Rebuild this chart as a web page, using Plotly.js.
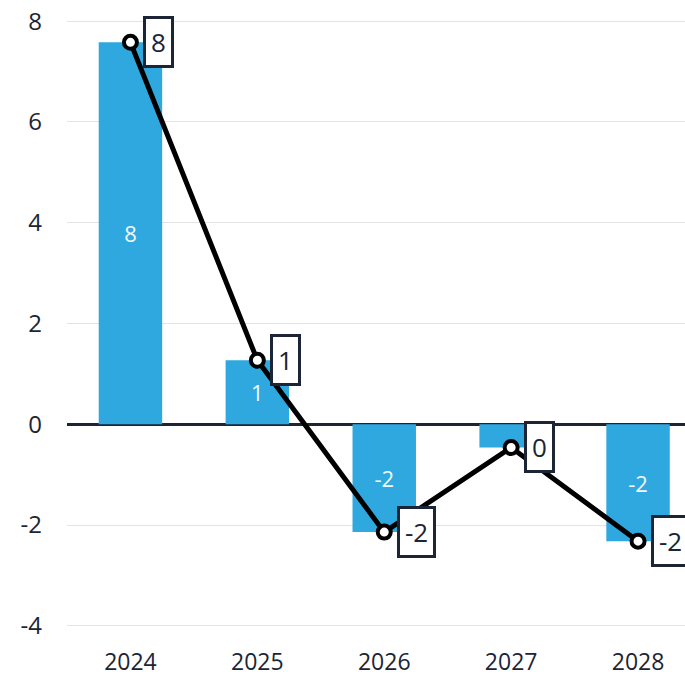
<!DOCTYPE html>
<html>
<head>
<meta charset="utf-8">
<script src="https://cdn.plot.ly/plotly-3.0.1.min.js"></script>
<style>html,body{margin:0;padding:0;background:#fff;overflow:hidden;}#chart{width:685px;height:676px;}</style>
</head>
<body>
<div id="chart"></div>
<script>
const years = ['2024', '2025', '2026', '2027', '2028'];
const barValues = [7.58, 1.27, -2.14, -0.46, -2.32];
const lineValues = [7.58, 1.27, -2.14, -0.46, -2.32];
const yTicks = [-4, -2, 0, 2, 4, 6, 8];

const navy = '#1b2535';
const fontFam = 'Open Sans, Noto Sans, sans-serif';

const bars = {
  type: 'bar',
  x: years,
  y: barValues,
  marker: {color: '#2ea8df'},
  text: barValues.map(v => String(Math.round(v))),
  textposition: 'inside',
  insidetextanchor: 'middle',
  textangle: 0,
  insidetextfont: {color: '#f2f9fd', size: 22, family: fontFam},
  hoverinfo: 'skip',
  showlegend: false
};

const line = {
  type: 'scatter',
  mode: 'lines+markers',
  x: years,
  y: lineValues,
  line: {color: '#000000', width: 5},
  marker: {size: 13, color: '#ffffff', line: {color: '#000000', width: 4}},
  cliponaxis: false,
  showlegend: false
};

const annotations = lineValues.map((v, i) => ({
  x: i,
  y: v,
  xref: 'x',
  yref: 'y',
  text: String(Math.round(v)),
  showarrow: false,
  xanchor: 'left',
  yanchor: 'middle',
  xshift: 13,
  bgcolor: '#ffffff',
  bordercolor: navy,
  borderwidth: 3,
  borderpad: 5,
  font: {size: 26, color: navy, family: fontFam}
}));

const layout = {
  width: 685,
  height: 676,
  margin: {l: 67, r: 0, t: 1, b: 30},
  paper_bgcolor: '#ffffff',
  plot_bgcolor: '#ffffff',
  bargap: 0.5,
  uniformtext: {mode: 'hide', minsize: 20},
  font: {family: fontFam, color: navy},
  xaxis: {
    type: 'category',
    range: [-0.5, 4.37],
    showgrid: false,
    showline: false,
    zeroline: false,
    ticks: '',
    tickfont: {size: 23, color: navy, family: fontFam},
    fixedrange: true
  },
  yaxis: {
    range: [-4.4, 8.4],
    tickvals: yTicks,
    ticktext: yTicks.map(String),
    showgrid: true,
    gridcolor: '#e3e3e3',
    gridwidth: 1,
    zeroline: true,
    zerolinecolor: navy,
    zerolinewidth: 3,
    showline: false,
    ticks: '',
    ticklabelstandoff: 24,
    tickfont: {size: 24, color: navy, family: fontFam},
    fixedrange: true
  },
  annotations: annotations
};

Plotly.newPlot('chart', [bars, line], layout, {displayModeBar: false, staticPlot: true});
</script>
</body>
</html>
